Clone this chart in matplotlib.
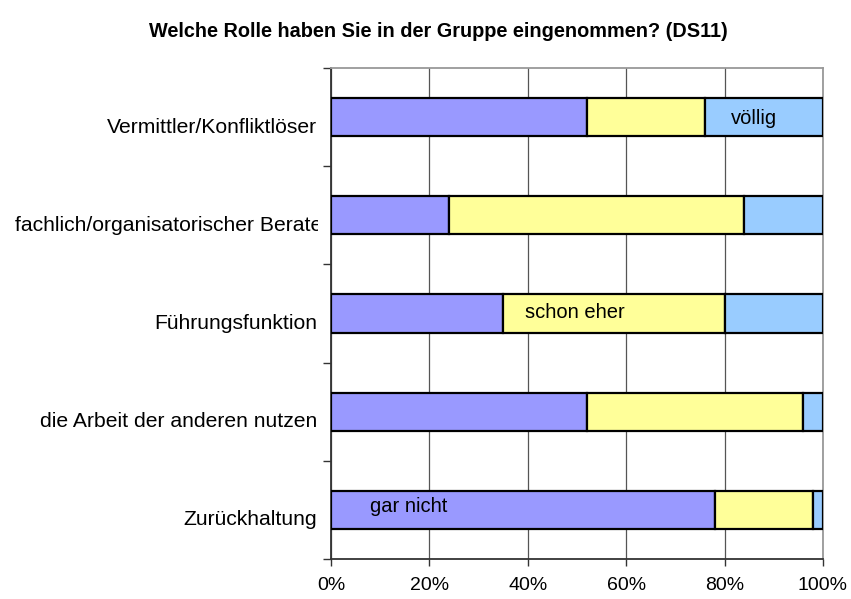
import numpy as np
import matplotlib.pyplot as plt
from matplotlib.transforms import Bbox, TransformedBbox, ScaledTranslation

plt.rcParams['font.family'] = ['Liberation Sans', 'DejaVu Sans']

# --- data ---
categories = ["Vermittler/Konfliktlöser",
              "fachlich/organisatorischer Berater",
              "Führungsfunktion",
              "die Arbeit der anderen nutzen",
              "Zurückhaltung"]
gar_nicht = [52, 24, 35, 52, 78]
schon_eher = [24, 60, 45, 44, 20]
voellig = [24, 16, 20, 4, 2]
series_names = ["gar nicht", "schon eher", "völlig"]
colors = ["#9999FF", "#FFFF99", "#99CCFF"]
xticks = [0, 20, 40, 60, 80, 100]

fig = plt.figure(figsize=(8.51, 5.99), dpi=100)
ax = fig.add_axes([0.389, 0.0668, 0.578, 0.8196])

y = np.arange(len(categories))
left = np.zeros(len(categories))
for vals, col in zip([gar_nicht, schon_eher, voellig], colors):
    ax.barh(y, vals, left=left, height=0.39, color=col,
            edgecolor='black', linewidth=1.6, zorder=3)
    left += np.array(vals)

# series labels written into the bars
ax.text(81.3, 0.01, series_names[2], fontsize=14.5, va='center', zorder=4)
ax.text(39.4, 2 - 0.01, series_names[1], fontsize=14.5, va='center', zorder=4)
ax.text(7.9, 4 - 0.03, series_names[0], fontsize=14.5, va='center', zorder=4)

ax.set_xlim(0, 100)
ax.set_ylim(len(categories) - 0.5, -0.5)
ax.set_xticks(xticks)
ax.set_xticklabels([f"{t}%" for t in xticks], fontsize=14)
ax.tick_params(axis='x', length=5, width=1, pad=8, color='#333333')

ax.set_yticks(y)
ax.set_yticklabels(categories, fontsize=15.2)
ax.tick_params(axis='y', which='major', length=0, pad=10)
ax.set_yticks(np.arange(-0.5, len(categories)), minor=True)
ax.tick_params(axis='y', which='minor', length=6, width=1, color='#333333')

ax.xaxis.grid(True, color='#555555', linewidth=0.9, zorder=0)
ax.set_axisbelow(True)

for s in ['left', 'bottom']:
    ax.spines[s].set_color('#333333')
    ax.spines[s].set_linewidth(1.3)
for s in ['top', 'right']:
    ax.spines[s].set_color('#999999')
    ax.spines[s].set_linewidth(1.3)

# labels sit a little below the bar centres; the long one runs into the
# axis and is cut off, like the original
clip = TransformedBbox(Bbox([[0, 0], [318 / 851, 1]]), fig.transFigure)
labels = ax.get_yticklabels()
for i, lab in enumerate(labels):
    dx = 0.12 if i == 1 else 0.0
    lab.set_transform(lab.get_transform()
                      + ScaledTranslation(dx, -0.08, fig.dpi_scale_trans))
    lab.set_clip_box(clip)
    lab.set_clip_on(True)

fig.text(0.515, 0.948, "Welche Rolle haben Sie in der Gruppe eingenommen? (DS11)",
         ha='center', va='center', fontsize=14.3, fontweight='bold')

fig.savefig("out.png", dpi=100)
